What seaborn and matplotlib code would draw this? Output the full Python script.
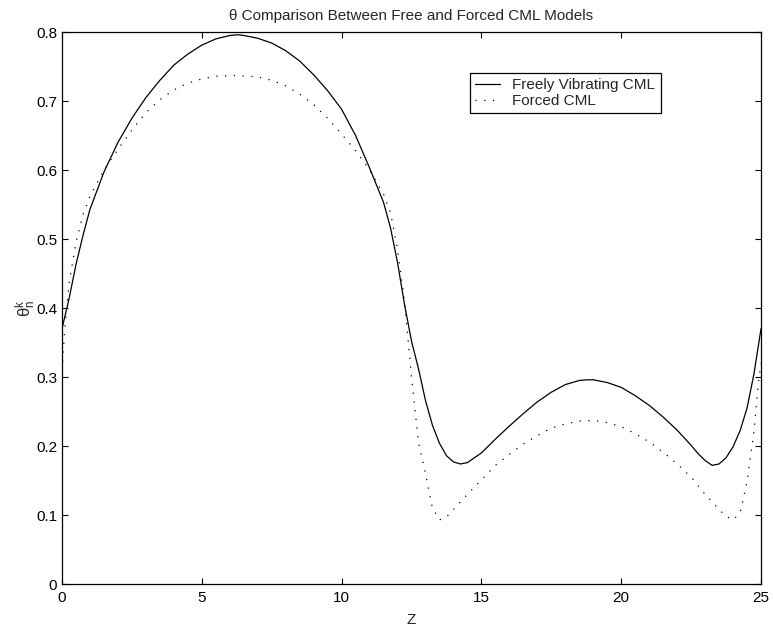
import matplotlib
matplotlib.use("Agg")
import matplotlib.pyplot as plt
import numpy as np
import pandas as pd
import seaborn as sns

# Sample positions along the lattice coordinate Z
z_free = [0.0, 0.25, 0.5, 0.75, 1.0, 1.5, 2.0, 2.5, 3.0, 3.5, 4.0, 4.5, 5.0, 5.5,
          6.0, 6.3, 6.5, 7.0, 7.5, 8.0, 8.5, 9.0, 9.5, 10.0, 10.5, 11.0, 11.5, 11.75,
          12.0, 12.25, 12.5, 12.75, 13.0, 13.25, 13.5, 13.75, 14.0, 14.25, 14.5,
          15.0, 15.5, 16.0, 16.5, 17.0, 17.5, 18.0, 18.5, 18.8, 19.0, 19.5, 20.0,
          20.5, 21.0, 21.5, 22.0, 22.5, 22.75, 23.0, 23.25, 23.5, 23.75, 24.0,
          24.25, 24.5, 24.75, 25.0]
theta_free = [0.370, 0.413, 0.463, 0.505, 0.543, 0.597, 0.640, 0.675, 0.705, 0.730,
              0.752, 0.768, 0.781, 0.790, 0.795, 0.796, 0.795, 0.791, 0.784, 0.773,
              0.758, 0.738, 0.715, 0.688, 0.650, 0.603, 0.553, 0.516, 0.466, 0.405,
              0.352, 0.312, 0.266, 0.230, 0.204, 0.186, 0.177, 0.174, 0.176, 0.190,
              0.210, 0.229, 0.247, 0.264, 0.278, 0.289, 0.295, 0.296, 0.296, 0.292,
              0.285, 0.273, 0.259, 0.242, 0.223, 0.201, 0.189, 0.179, 0.172, 0.174,
              0.183, 0.199, 0.222, 0.255, 0.305, 0.370]

z_forced = [0.0, 0.1, 0.25, 0.5, 0.75, 1.0, 1.5, 2.0, 2.5, 3.0, 3.5, 4.0, 4.5, 5.0,
            5.5, 6.25, 7.0, 7.5, 8.0, 8.5, 9.0, 9.5, 10.0, 10.5, 11.0, 11.5, 11.75,
            12.0, 12.25, 12.5, 12.75, 13.0, 13.25, 13.5, 13.75, 14.0, 14.5, 15.0,
            15.5, 16.0, 16.5, 17.0, 17.5, 18.0, 18.5, 19.0, 19.5, 20.0, 20.5, 21.0,
            21.5, 22.0, 22.5, 23.0, 23.5, 23.75, 24.0, 24.25, 24.5, 24.75, 24.9, 25.0]
theta_forced = [0.310, 0.370, 0.435, 0.495, 0.535, 0.562, 0.600, 0.630, 0.658, 0.683,
                0.702, 0.716, 0.726, 0.732, 0.736, 0.737, 0.735, 0.730, 0.722, 0.710,
                0.695, 0.675, 0.652, 0.628, 0.600, 0.565, 0.538, 0.485, 0.410, 0.300,
                0.205, 0.160, 0.110, 0.093, 0.097, 0.108, 0.130, 0.151, 0.172, 0.188,
                0.203, 0.215, 0.226, 0.232, 0.236, 0.237, 0.234, 0.228, 0.218, 0.206,
                0.191, 0.174, 0.155, 0.130, 0.108, 0.098, 0.093, 0.103, 0.148, 0.222,
                0.290, 0.320]

series_labels = ["Freely Vibrating CML", "Forced CML"]
x_ticks = [0, 5, 10, 15, 20, 25]
y_ticks = [0, 0.1, 0.2, 0.3, 0.4, 0.5, 0.6, 0.7, 0.8]
y_tick_labels = ["0", "0.1", "0.2", "0.3", "0.4", "0.5", "0.6", "0.7", "0.8"]

df_free = pd.DataFrame({"Z": z_free, "theta": theta_free})
df_forced = pd.DataFrame({"Z": z_forced, "theta": theta_forced})

sns.set_style("white")
plt.rcParams["font.family"] = ["Liberation Sans", "DejaVu Sans"]
plt.rcParams["mathtext.fontset"] = "custom"
plt.rcParams["mathtext.rm"] = "Liberation Sans"
plt.rcParams["mathtext.it"] = "Liberation Sans"
plt.rcParams["mathtext.default"] = "regular"

FS = 11

fig = plt.figure(figsize=(7.73, 6.29), dpi=100)
ax = fig.add_axes([0.0802, 0.0715, 0.9043, 0.8776])

sns.lineplot(data=df_free, x="Z", y="theta", ax=ax, color="black", linewidth=0.9,
             label=series_labels[0], sort=False)
sns.lineplot(data=df_forced, x="Z", y="theta", ax=ax, color="black", linewidth=0.9,
             linestyle=(0, (1, 6)), label=series_labels[1], sort=False)

ax.set_xlim(0, 25)
ax.set_ylim(0, 0.8)
ax.set_xticks(x_ticks)
ax.set_xticklabels([str(t) for t in x_ticks])
ax.set_yticks(y_ticks)
ax.set_yticklabels(y_tick_labels)

for side in ["left", "right", "top", "bottom"]:
    ax.spines[side].set_visible(True)
    ax.spines[side].set_color("black")
    ax.spines[side].set_linewidth(0.9)

ax.tick_params(axis="both", which="major", direction="in", length=4.3, width=0.8,
               color="black", labelsize=FS, labelcolor="black",
               top=True, right=True, bottom=True, left=True)
ax.tick_params(axis="x", pad=5)
ax.tick_params(axis="y", pad=3.5)

ax.set_title("θ Comparison Between Free and Forced CML Models", fontsize=FS, pad=8.5)
ax.set_xlabel("Z", fontsize=FS, labelpad=5.5)
ax.set_ylabel(r"$\theta^k_n$", fontsize=FS + 1)
ax.yaxis.set_label_coords(-0.035, 0.5)

leg = ax.legend(loc="upper left", bbox_to_anchor=(0.5837, 0.9257), borderaxespad=0,
                fontsize=FS, frameon=True, fancybox=False, handlelength=1.6,
                handletextpad=0.85, borderpad=0.33, labelspacing=0.12)
leg.get_frame().set_edgecolor("black")
leg.get_frame().set_linewidth(0.9)
leg.get_frame().set_alpha(1)

fig.savefig("out.png", dpi=100, facecolor="white")
